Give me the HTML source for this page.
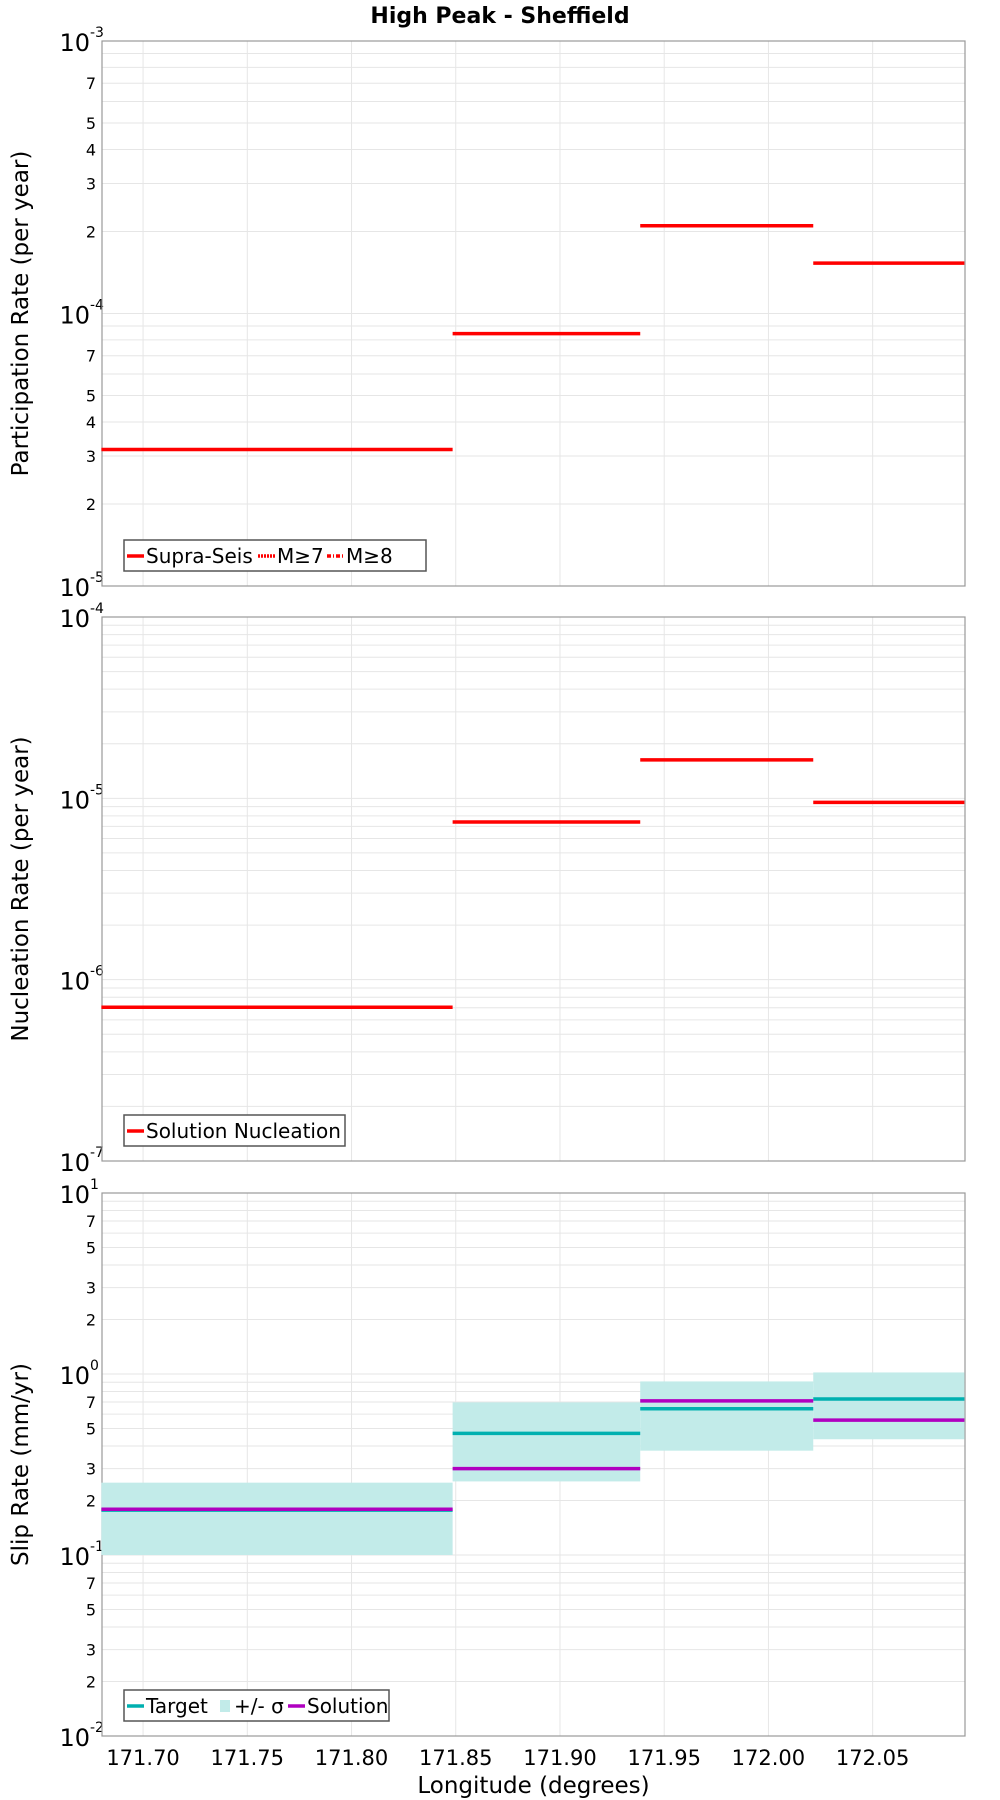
<!DOCTYPE html>
<html><head><meta charset="utf-8"><style>
html,body{margin:0;padding:0;background:#fff;}
svg{display:block;font-family:"DejaVu Sans","Liberation Sans",sans-serif;}
</style></head><body>
<svg id="chart" width="1000" height="1800" viewBox="0 0 1000 1800" xmlns="http://www.w3.org/2000/svg">
<text x="500" y="23" text-anchor="middle" font-size="22" font-weight="bold">High Peak - Sheffield</text>
</svg>
<script>
// Shared x data
const segEdges = [171.680, 171.8485, 171.9385, 172.0215, 172.094];
const xTicks = [171.70, 171.75, 171.80, 171.85, 171.90, 171.95, 172.00, 172.05];
const xTickLabels = ["171.70","171.75","171.80","171.85","171.90","171.95","172.00","172.05"];
// Panel 1: participation
const partSupra = [3.17e-5, 8.44e-5, 2.10e-4, 1.53e-4];
// Panel 2: nucleation
const nuclSolution = [7.05e-7, 7.4e-6, 1.63e-5, 9.5e-6];
// Panel 3: slip rate
const slipTarget = [0.177, 0.47, 0.643, 0.727];
const slipSolution = [0.179, 0.30, 0.71, 0.556];
const slipSigmaHi = [0.251, 0.697, 0.91, 1.02];
const slipSigmaLo = [0.100, 0.255, 0.377, 0.436];

const NS = "http://www.w3.org/2000/svg";
const svg = document.getElementById("chart");
const X0 = 102, X1 = 965, XMIN = 171.6803, XMAX = 172.0943;
function xs(v){ return X0 + (v - XMIN) / (XMAX - XMIN) * (X1 - X0); }
function mk(tag, attrs, parent){
  const e = document.createElementNS(NS, tag);
  for (const k in attrs) e.setAttribute(k, attrs[k]);
  (parent || svg).appendChild(e);
  return e;
}

function panel(name, top, bottom, expTop, expBot, yTitle, showX, minorLabels){
  const g = mk("g", {});
  
  
  const ys = v => top + (expTop - Math.log10(v)) / (expTop - expBot) * (bottom - top);
  for (let e = expBot; e < expTop; e++){
    for (let m = 1; m <= 9; m++){
      const y = ys(m * Math.pow(10, e));
      const l = mk("line", {x1:X0, x2:X1, y1:y, y2:y, stroke:"#e6e6e6", "stroke-width":1}, g);
      
      
      if (minorLabels.includes(m)){
        const t = mk("text", {x:X0-6, y:y+6, "text-anchor":"end", "font-size":16}, g);
        t.textContent = m;
        
        
      }
    }
  }
  xTicks.forEach((v) => {
    const l = mk("line", {x1:xs(v), x2:xs(v), y1:top, y2:bottom, stroke:"#e6e6e6", "stroke-width":1}, g);
    
    
  });
  for (let e = expBot; e <= expTop; e++){
    const y = ys(Math.pow(10, e));
    const t = mk("text", {x:X0-12, y:y+10, "text-anchor":"end", "font-size":24}, g);
    t.textContent = "10";
    
    
    const s = mk("text", {x:X0-12, y:y-4, "text-anchor":"start", "font-size":14}, g);
    s.textContent = String(e);
    
    
  }
  const b = mk("rect", {x:X0, y:top, width:X1-X0, height:bottom-top, fill:"none", stroke:"#999", "stroke-width":1.2}, g);
  
  
  const yt = mk("text", {x:0, y:0, "text-anchor":"middle", "font-size":23, transform:`translate(28,${(top+bottom)/2}) rotate(-90)`}, g);
  yt.textContent = yTitle;
  
  
  if (showX){
    xTicks.forEach((v, i) => {
      const t = mk("text", {x:xs(v), y:bottom+29, "text-anchor":"middle", "font-size":21}, g);
      t.textContent = xTickLabels[i];
      
      
    });
    const xt = mk("text", {x:(X0+X1)/2, y:bottom+57, "text-anchor":"middle", "font-size":23}, g);
    xt.textContent = "Longitude (degrees)";
    
    
  }
  return {g, ys};
}
function steps(p, vals, color, name){
  vals.forEach((v, i) => {
    const l = mk("line", {x1:xs(segEdges[i]), x2:xs(segEdges[i+1]), y1:p.ys(v), y2:p.ys(v), stroke:color, "stroke-width":3.5}, p.g);
    
    
  });
}
function legend(p, x, y, w, items){
  const lg = mk("g", {}, p.g);
  
  
  const r = mk("rect", {x:x, y:y, width:w, height:31, fill:"#fff", stroke:"#555", "stroke-width":1.5}, lg);
  
  
  let cx = x + 3;
  items.forEach(it => {
    if (it.band){
      const s = mk("rect", {x:cx+2, y:y+10, width:10, height:12, fill:it.color}, lg);
      
      
      cx += 16;
    } else {
      const s = mk("line", {x1:cx, x2:cx+17, y1:y+16, y2:y+16, stroke:it.color, "stroke-width":3.5, "stroke-dasharray":it.dash||"none"}, lg);
      
      
      cx += 19;
    }
    const t = mk("text", {x:cx, y:y+23, "font-size":20}, lg);
    t.textContent = it.label;
    
    
    cx += it.w;
  });
}

const p1 = panel("participation", 41, 586, -3, -5, "Participation Rate (per year)", false, [2,3,4,5,7]);
steps(p1, partSupra, "#ff0000", "supra-seis");
legend(p1, 124, 540, 302, [
  {label:"Supra-Seis", color:"#f00", w:112},
  {label:"M≥7", color:"#f00", dash:"2,1", w:50},
  {label:"M≥8", color:"#f00", dash:"4,2,1,2", w:50}
]);

const p2 = panel("nucleation", 617, 1161, -4, -7, "Nucleation Rate (per year)", false, []);
steps(p2, nuclSolution, "#ff0000", "solution-nucleation");
legend(p2, 124, 1115, 221, [{label:"Solution Nucleation", color:"#f00", w:200}]);

const p3 = panel("slip-rate", 1193, 1736, 1, -2, "Slip Rate (mm/yr)", true, [2,3,5,7]);
slipSigmaHi.forEach((hi, i) => {
  const r = mk("rect", {x:xs(segEdges[i]), y:p3.ys(hi), width:xs(segEdges[i+1])-xs(segEdges[i]), height:p3.ys(slipSigmaLo[i])-p3.ys(hi), fill:"#c2ebe9"}, p3.g);
  
  
});
steps(p3, slipTarget, "#00b0b0", "target");
steps(p3, slipSolution, "#b000c0", "solution");
legend(p3, 124, 1690, 265, [
  {label:"Target", color:"#00b0b0", w:72},
  {label:"+/- σ", color:"#c2ebe9", band:true, w:54},
  {label:"Solution", color:"#b000c0", w:90}
]);
</script>
</body></html>
